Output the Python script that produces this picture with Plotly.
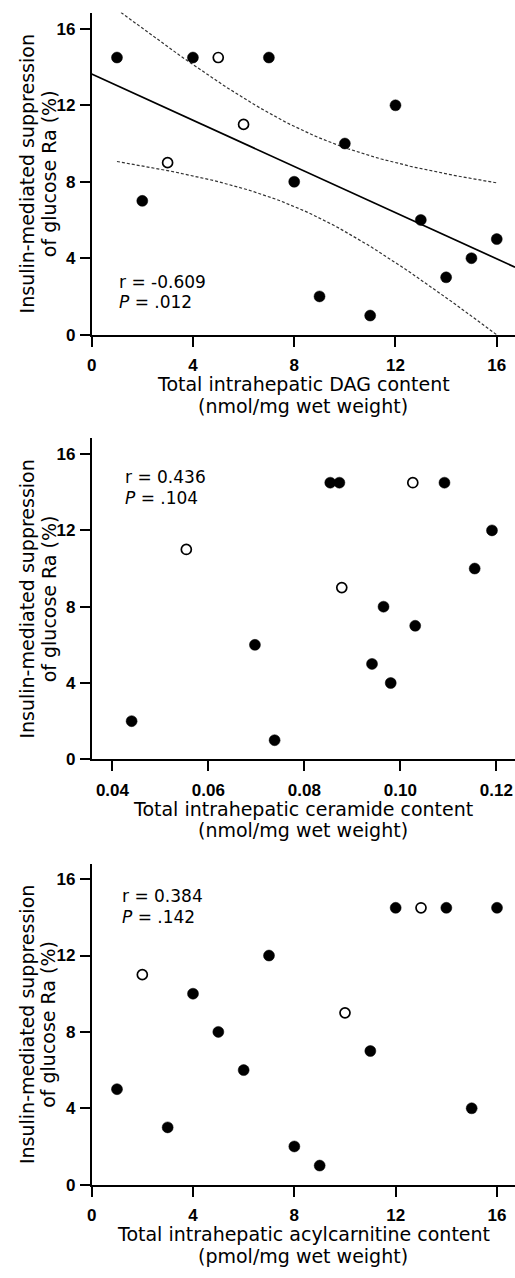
import numpy as np
import plotly.graph_objects as go

W, H = 515, 1278

# ---------------- data ----------------
dag_filled_x = [1, 2, 4, 7, 8, 9, 10, 11, 12, 13, 14, 15, 16]
dag_filled_y = [14.5, 7, 14.5, 14.5, 8, 2, 10, 1, 12, 6, 3, 4, 5]
dag_open_x = [3, 5, 6]
dag_open_y = [9, 14.5, 11]

cer_filled_x = [0.0440, 0.0697, 0.0738, 0.0854, 0.0873, 0.0941, 0.0965, 0.0980, 0.1031, 0.1092, 0.1155, 0.1191]
cer_filled_y = [2, 6, 1, 14.5, 14.5, 5, 8, 4, 7, 14.5, 10, 12]
cer_open_x = [0.0554, 0.0878, 0.1026]
cer_open_y = [11, 9, 14.5]

acy_filled_x = [1, 3, 4, 5, 6, 7, 8, 9, 11, 12, 14, 15, 16]
acy_filled_y = [5, 3, 10, 8, 6, 12, 2, 1, 7, 14.5, 14.5, 4, 14.5]
acy_open_x = [2, 10, 13]
acy_open_y = [11, 9, 14.5]

y_ticks = [0, 4, 8, 12, 16]
dag_ticks = [0, 4, 8, 12, 16]
cer_ticks = [0.04, 0.06, 0.08, 0.10, 0.12]
acy_ticks = [0, 4, 8, 12, 16]

stats_text = [("r = -0.609", ".012"), ("r = 0.436", ".104"), ("r = 0.384", ".142")]
x_titles = [("Total intrahepatic DAG content", "(nmol/mg wet weight)"),
            ("Total intrahepatic ceramide content", "(nmol/mg wet weight)"),
            ("Total intrahepatic acylcarnitine content", "(pmol/mg wet weight)")]
y_title = ("Insulin-mediated suppression", "of glucose Ra (%)")

T_CRIT = 2.1448  # t(0.975, df=14)

# ---------------- layout geometry (pixels) ----------------
LEFT = 87.5
panels = [  # (top px, bottom px, xrange, yrange)
    (12.7, 337.3, [0, 16.72], [0, 16.85]),
    (441.7, 765.3, [0.03567, 0.1239], [0, 16.83]),
    (870.7, 1194.0, [0, 16.71], [0, 16.8]),
]

TXT = "DejaVu Sans"
TICKF = "Liberation Sans"
TITLE_SIZE = 19
STAT_SIZE = 17

fig = go.Figure()

def px_x(p):
    return p / W

def px_y(p):
    return 1 - p / H

datasets = [
    (dag_filled_x, dag_filled_y, dag_open_x, dag_open_y, dag_ticks),
    (cer_filled_x, cer_filled_y, cer_open_x, cer_open_y, cer_ticks),
    (acy_filled_x, acy_filled_y, acy_open_x, acy_open_y, acy_ticks),
]

for i, ((top, bot, xr, yr), (fx, fy, ox, oy, xt)) in enumerate(zip(panels, datasets)):
    n = i + 1
    xa = "x" if n == 1 else f"x{n}"
    ya = "y" if n == 1 else f"y{n}"

    if n == 1:
        ax_all = np.array(fx + ox, dtype=float)
        ay_all = np.array(fy + oy, dtype=float)
        nn = len(ax_all)
        slope, intercept = np.polyfit(ax_all, ay_all, 1)
        resid = ay_all - (slope * ax_all + intercept)
        s = np.sqrt(np.sum(resid ** 2) / (nn - 2))
        mx = ax_all.mean()
        sxx = np.sum((ax_all - mx) ** 2)
        xl = np.linspace(xr[0], xr[1], 50)
        fig.add_trace(go.Scatter(x=xl, y=slope * xl + intercept, mode="lines",
                                 line=dict(color="black", width=1.7),
                                 xaxis=xa, yaxis=ya, showlegend=False, hoverinfo="skip"))
        xc = np.linspace(ax_all.min(), ax_all.max(), 80)
        fit = slope * xc + intercept
        hw = T_CRIT * s * np.sqrt(1 / nn + (xc - mx) ** 2 / sxx)
        for band in (fit + hw, fit - hw):
            fig.add_trace(go.Scatter(x=xc, y=band, mode="lines",
                                     line=dict(color="#333333", width=1.2, dash="3px,2px"),
                                     xaxis=xa, yaxis=ya, showlegend=False, hoverinfo="skip"))

    fig.add_trace(go.Scatter(x=fx, y=fy, mode="markers",
                             marker=dict(symbol="circle", size=11, color="black",
                                         line=dict(color="black", width=0.5)),
                             xaxis=xa, yaxis=ya, showlegend=False, cliponaxis=False))
    fig.add_trace(go.Scatter(x=ox, y=oy, mode="markers",
                             marker=dict(symbol="circle", size=10, color="white",
                                         line=dict(color="black", width=1.7)),
                             xaxis=xa, yaxis=ya, showlegend=False, cliponaxis=False))

    dom_y = [px_y(bot), px_y(top)]
    common = dict(showline=True, linecolor="black", linewidth=1.7, ticks="outside",
                  ticklen=10, tickwidth=1.7, tickcolor="black", showgrid=False,
                  zeroline=False, tickfont=dict(family=TICKF, size=17, color="black", weight="bold"))
    xkey = "xaxis" if n == 1 else f"xaxis{n}"
    ykey = "yaxis" if n == 1 else f"yaxis{n}"
    fig.update_layout({
        xkey: dict(domain=[px_x(LEFT), 1.0], range=xr, anchor=ya, tickvals=xt,
                   tickformat=(".2f" if n == 2 else "d"), ticklabelstandoff=4, **common),
        ykey: dict(domain=dom_y, range=yr, anchor=xa, tickvals=y_ticks,
                   ticklabelstandoff=1, **common),
    })

    # stats annotation
    rtxt, ptxt = stats_text[i]
    r_left = [113.5, 119.0, 116.0][i]
    r_y = [284.0, 481.0, 903.3][i]
    fig.add_annotation(x=px_x(r_left), y=px_y(r_y), xref="paper", yref="paper",
                       text=rtxt, showarrow=False, xanchor="left", yanchor="middle",
                       font=dict(family=TXT, size=STAT_SIZE, color="black"))
    fig.add_annotation(x=px_x(r_left), y=px_y(r_y + 20.5), xref="paper", yref="paper",
                       text=f"<i>P</i> = {ptxt}", showarrow=False, xanchor="left", yanchor="middle",
                       font=dict(family=TXT, size=STAT_SIZE, color="black"))

    # x title (two lines)
    cx = (LEFT + W) / 2
    l1, l2 = x_titles[i]
    fig.add_annotation(x=px_x(cx), y=px_y(bot + 50), xref="paper", yref="paper",
                       text=l1, showarrow=False, xanchor="center", yanchor="middle",
                       font=dict(family=TXT, size=TITLE_SIZE, color="black"))
    fig.add_annotation(x=px_x(cx), y=px_y(bot + 71.5), xref="paper", yref="paper",
                       text=l2, showarrow=False, xanchor="center", yanchor="middle",
                       font=dict(family=TXT, size=TITLE_SIZE, color="black"))

    # y title (two rotated lines)
    cy = (top + bot) / 2
    fig.add_annotation(x=px_x(22.0), y=px_y(cy), xref="paper", yref="paper",
                       text=y_title[0], showarrow=False, textangle=-90,
                       xanchor="center", yanchor="middle",
                       font=dict(family=TXT, size=TITLE_SIZE, color="black"))
    fig.add_annotation(x=px_x(44.0), y=px_y(cy), xref="paper", yref="paper",
                       text=y_title[1], showarrow=False, textangle=-90,
                       xanchor="center", yanchor="middle",
                       font=dict(family=TXT, size=TITLE_SIZE, color="black"))

fig.update_layout(width=W, height=H, margin=dict(l=0, r=0, t=0, b=0),
                  paper_bgcolor="white", plot_bgcolor="white", showlegend=False)

fig.write_html("out.html", config={"displayModeBar": False},
               post_script="document.body.style.margin='0';")
